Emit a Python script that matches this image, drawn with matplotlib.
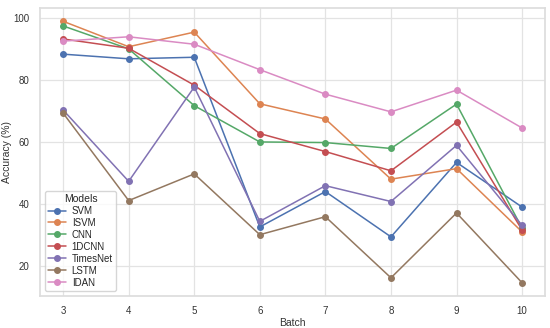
import numpy as np
import matplotlib
matplotlib.use("Agg")
import matplotlib.pyplot as plt
import seaborn as sns

batches = [3, 4, 5, 6, 7, 8, 9, 10]

svm = [88.3, 86.8, 87.3, 32.6, 44.0, 29.4, 53.4, 39.0]
isvm = [98.9, 90.7, 95.4, 72.3, 67.4, 48.0, 51.4, 31.0]
cnn = [97.4, 90.0, 71.7, 60.0, 59.8, 57.9, 72.2, 32.2]
dcnn = [93.2, 90.2, 78.3, 62.7, 56.9, 50.7, 66.4, 31.6]
timesnet = [70.3, 47.3, 77.7, 34.4, 45.9, 40.8, 58.9, 33.1]
lstm = [69.3, 41.1, 49.7, 30.1, 35.9, 16.2, 37.1, 14.6]
idan = [92.5, 93.9, 91.5, 83.3, 75.4, 69.7, 76.7, 64.5]

models = ["SVM", "ISVM", "CNN", "1DCNN", "TimesNet", "LSTM", "IDAN"]
series = [svm, isvm, cnn, dcnn, timesnet, lstm, idan]

sns.set_theme(style="whitegrid")
plt.rcParams['font.family'] = ['Liberation Sans', 'DejaVu Sans']

fig, ax = plt.subplots(figsize=(5.5, 3.28), dpi=100)
colors = sns.color_palette("deep")

for i, (name, vals) in enumerate(zip(models, series)):
    ax.plot(batches, vals, marker='o', markersize=4, linewidth=1.1,
            color=colors[i], label=name)

ax.set_xlabel("Batch", fontsize=7.5, labelpad=1, color="#333333")
ax.set_ylabel("Accuracy (%)", fontsize=7.5, labelpad=1, color="#333333")
ax.set_yticks([20, 40, 60, 80, 100])
ax.tick_params(labelsize=7, pad=1.5, colors="#333333")
ax.grid(color="#e3e3e3", linewidth=0.9)
for s in ax.spines.values():
    s.set_color("#dddddd")

leg = ax.legend(title="Models", fontsize=7, title_fontsize=7.5, loc="lower left",
                handlelength=1.8, handletextpad=0.6, labelspacing=0.2,
                borderpad=0.35)

plt.subplots_adjust(left=0.073, right=0.991, top=0.975, bottom=0.098)
plt.savefig("out.png", dpi=100)
